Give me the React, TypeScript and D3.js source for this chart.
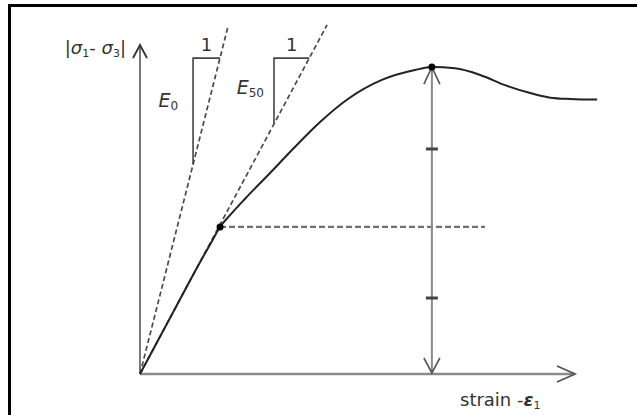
import React from 'react';
import * as d3 from 'd3';

const W = 637;
const H = 415;

// stress–strain curve (arbitrary units)
const strain = [0, 6.9, 13.8, 16.3, 18.4, 20.7, 24.1, 29.9, 35.6, 41.4, 47.8, 55.6, 63.2, 67.1, 72.4, 78.2, 83.9, 89.7, 94.3, 98.9, 105.1];
const stress = [0, 17.0, 34.0, 39.8, 44.7, 48.3, 53.2, 61.1, 69.0, 76.6, 83.6, 89.4, 92.4, 93.3, 92.9, 90.9, 87.8, 85.4, 84.0, 83.6, 83.4];

const peakPoint = [67.1, 93.3];
const halfPoint = [18.4, 44.7];
const halfLineEnd = 79.3;
const arrowTicks = [68.4, 23.1];

const e0End = [20.2, 105.5];
const e50End = [43.0, 106.1];
const triangleTop = 96.0;
const e0TriangleX = 12.2;
const e50TriangleX = 30.8;

const xDomain = [0, 100];
const yDomain = [0, 100];

const FONT = '"DejaVu Sans", sans-serif';

export default function App() {
  const x = d3.scaleLinear().domain(xDomain).range([140, 575]);
  const y = d3.scaleLinear().domain(yDomain).range([374, 45]);

  const pts: [number, number][] = strain.map((s, i) => [s, stress[i]]);
  const line = d3
    .line<[number, number]>()
    .x((d) => x(d[0]))
    .y((d) => y(d[1]))
    .curve(d3.curveMonotoneX);

  const e0Slope = e0End[1] / e0End[0];
  const e50Slope = e50End[1] / e50End[0];

  const x0 = x(0);
  const y0 = y(0);
  const xEnd = x(xDomain[1]);
  const yEnd = y(yDomain[1]);
  const px = x(peakPoint[0]);
  const py = y(peakPoint[1]);

  const dash = '#4a4a4a';
  const axis = '#8a8a8a';

  const triangle = (tx: number, slope: number) => {
    const bottom = tx * slope;
    const right = triangleTop / slope;
    return `M${x(tx)},${y(bottom)}L${x(tx)},${y(triangleTop)}L${x(right)},${y(triangleTop)}`;
  };

  return (
    <svg width={W} height={H} style={{ position: 'absolute', left: 0, top: 0, background: '#fff' }}>
      <rect x={0} y={0} width={W} height={H} fill="#fff" />
      {/* frame */}
      <path d={`M9.5,${H}L9.5,5.5L${W},5.5`} fill="none" stroke="#000" strokeWidth={3} />

      {/* axes */}
      <line x1={x0} y1={y0} x2={x0} y2={yEnd} stroke="#6a6a6a" strokeWidth={1.8} />
      <path d={`M${x0 - 7},${yEnd + 13}L${x0},${yEnd}L${x0 + 7},${yEnd + 13}`} fill="none" stroke="#333" strokeWidth={1.8} />
      <line x1={x0} y1={y0} x2={xEnd} y2={y0} stroke={axis} strokeWidth={2.6} />
      <path d={`M${xEnd - 18},${y0 - 8}L${xEnd},${y0}L${xEnd - 18},${y0 + 8}`} fill="none" stroke="#555" strokeWidth={1.8} />

      {/* tangent / secant lines */}
      <line x1={x(0)} y1={y(0)} x2={x(e0End[0])} y2={y(e0End[1])} stroke={dash} strokeWidth={1.7} strokeDasharray="5,3" />
      <line x1={x(0)} y1={y(0)} x2={x(e50End[0])} y2={y(e50End[1])} stroke={dash} strokeWidth={1.7} strokeDasharray="5,3" />
      <path d={triangle(e0TriangleX, e0Slope)} fill="none" stroke="#444" strokeWidth={1.6} />
      <path d={triangle(e50TriangleX, e50Slope)} fill="none" stroke="#444" strokeWidth={1.6} />

      {/* half-peak level */}
      <line x1={x(halfPoint[0])} y1={y(halfPoint[1])} x2={x(halfLineEnd)} y2={y(halfPoint[1])} stroke="#6f6f6f" strokeWidth={2.2} strokeDasharray="6,3" />

      {/* peak double arrow */}
      <line x1={px} y1={py} x2={px} y2={y0} stroke={axis} strokeWidth={2} />
      <path d={`M${px - 8},${py + 17}L${px},${py}L${px + 8},${py + 17}`} fill="none" stroke="#555" strokeWidth={1.6} />
      <path d={`M${px - 8},${y0 - 16}L${px},${y0 - 1}L${px + 8},${y0 - 16}`} fill="none" stroke="#555" strokeWidth={1.6} />
      {arrowTicks.map((t) => (
        <line key={t} x1={px - 6} y1={y(t)} x2={px + 6} y2={y(t)} stroke="#444" strokeWidth={3} />
      ))}

      {/* curve */}
      <path d={line(pts) || ''} fill="none" stroke="#222" strokeWidth={2} />
      <circle cx={px} cy={py} r={3.5} fill="#000" />
      <circle cx={x(halfPoint[0])} cy={y(halfPoint[1])} r={3.5} fill="#000" />

      {/* labels */}
      <g fontFamily={FONT} fill="#333">
        <text x={x0 - 14} y={yEnd + 9} fontSize={18} textAnchor="end">
          |<tspan fontStyle="italic">σ</tspan>
          <tspan fontSize={11} dy={3}>1</tspan>
          <tspan dy={-3}>- </tspan>
          <tspan fontStyle="italic">σ</tspan>
          <tspan fontSize={11} dy={3}>3</tspan>
          <tspan dy={-3}>|</tspan>
        </text>
        <text x={x0 + 320} y={y0 + 32} fontSize={18}>
          strain -<tspan fontStyle="italic" fontWeight="bold">ε</tspan>
          <tspan fontSize={11} dy={3}>1</tspan>
        </text>
        <text x={(x(e0TriangleX) + x(triangleTop / e0Slope)) / 2} y={y(triangleTop) - 7} fontSize={18} textAnchor="middle">1</text>
        <text x={(x(e50TriangleX) + x(triangleTop / e50Slope)) / 2} y={y(triangleTop) - 7} fontSize={18} textAnchor="middle">1</text>
        <text x={x(e0TriangleX) - 15} y={107} fontSize={19} textAnchor="end">
          <tspan fontStyle="italic">E</tspan>
          <tspan fontSize={12} dy={3}>0</tspan>
        </text>
        <text x={x(e50TriangleX) - 10} y={94} fontSize={19} textAnchor="end">
          <tspan fontStyle="italic">E</tspan>
          <tspan fontSize={12} dy={3}>50</tspan>
        </text>
      </g>
    </svg>
  );
}
